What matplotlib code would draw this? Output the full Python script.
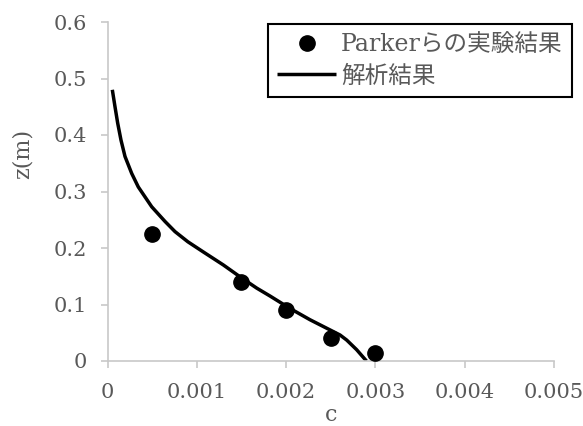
import matplotlib
matplotlib.use("Agg")
import matplotlib.pyplot as plt

# Experimental data (Parker et al.)
exp_c = [0.0005, 0.0015, 0.0020, 0.0025, 0.0030]
exp_z = [0.225, 0.140, 0.090, 0.040, 0.015]

# Analytical result
ana_c = [0.000054, 0.000084, 0.000114, 0.000151, 0.000196, 0.000271, 0.000345,
         0.000495, 0.000644, 0.000756, 0.000900, 0.001073, 0.001297, 0.001484,
         0.001671, 0.001820, 0.002044, 0.002268, 0.002492, 0.002604, 0.002679,
         0.002790, 0.002900]
ana_z = [0.480, 0.450, 0.421, 0.391, 0.362, 0.332, 0.308,
         0.273, 0.247, 0.229, 0.211, 0.193, 0.170, 0.149,
         0.129, 0.115, 0.093, 0.073, 0.055, 0.046, 0.037,
         0.020, 0.000]

xticks = [0, 0.001, 0.002, 0.003, 0.004, 0.005]
xticklabels = ["0", "0.001", "0.002", "0.003", "0.004", "0.005"]
yticks = [0, 0.1, 0.2, 0.3, 0.4, 0.5, 0.6]
yticklabels = ["0", "0.1", "0.2", "0.3", "0.4", "0.5", "0.6"]

FAM = ["DejaVu Serif", "Noto Sans CJK JP"]
plt.rcParams["font.family"] = FAM
TXT = "#595959"
AX = "#C8C8C8"

fig = plt.figure(figsize=(5.83, 4.26), dpi=100)
ax = fig.add_axes([107.5 / 583, 1 - 361 / 426, 446.5 / 583, 339 / 426])

ax.plot(ana_c, ana_z, color="black", lw=2.5, label="解析結果", zorder=2,
        solid_capstyle="butt", solid_joinstyle="round")
ax.plot(exp_c, exp_z, "o", color="black", ms=11, label="Parkerらの実験結果", zorder=3)

ax.set_xlim(0, 0.005)
ax.set_ylim(0, 0.6)
ax.set_xticks(xticks)
ax.set_xticklabels(xticklabels)
ax.set_yticks(yticks)
ax.set_yticklabels(yticklabels)

for s in ["top", "right"]:
    ax.spines[s].set_visible(False)
for s in ["left", "bottom"]:
    ax.spines[s].set_color(AX)
    ax.spines[s].set_linewidth(1.2)
ax.tick_params(axis="both", colors=AX, length=5, width=1.2, labelcolor=TXT,
               labelsize=15)
ax.tick_params(axis="x", pad=11)
ax.tick_params(axis="y", pad=10)

ax.set_xlabel("c", color=TXT, fontsize=16, labelpad=1)
ax.set_ylabel("z(m)", color=TXT, fontsize=16)
ax.yaxis.set_label_coords(-0.165, 0.61)

handles, labels = ax.get_legend_handles_labels()
leg = ax.legend(handles[::-1], labels[::-1], loc="upper right",
                bbox_to_anchor=(1.040, 0.994), borderaxespad=0,
                fancybox=False, framealpha=1,
                edgecolor="black", fontsize=17, handlelength=2.5,
                handletextpad=0.2, borderpad=0.4, labelspacing=0.35)
leg.get_frame().set_linewidth(1.5)
for t in leg.get_texts():
    t.set_color(TXT)

fig.savefig("out.png", dpi=100)
